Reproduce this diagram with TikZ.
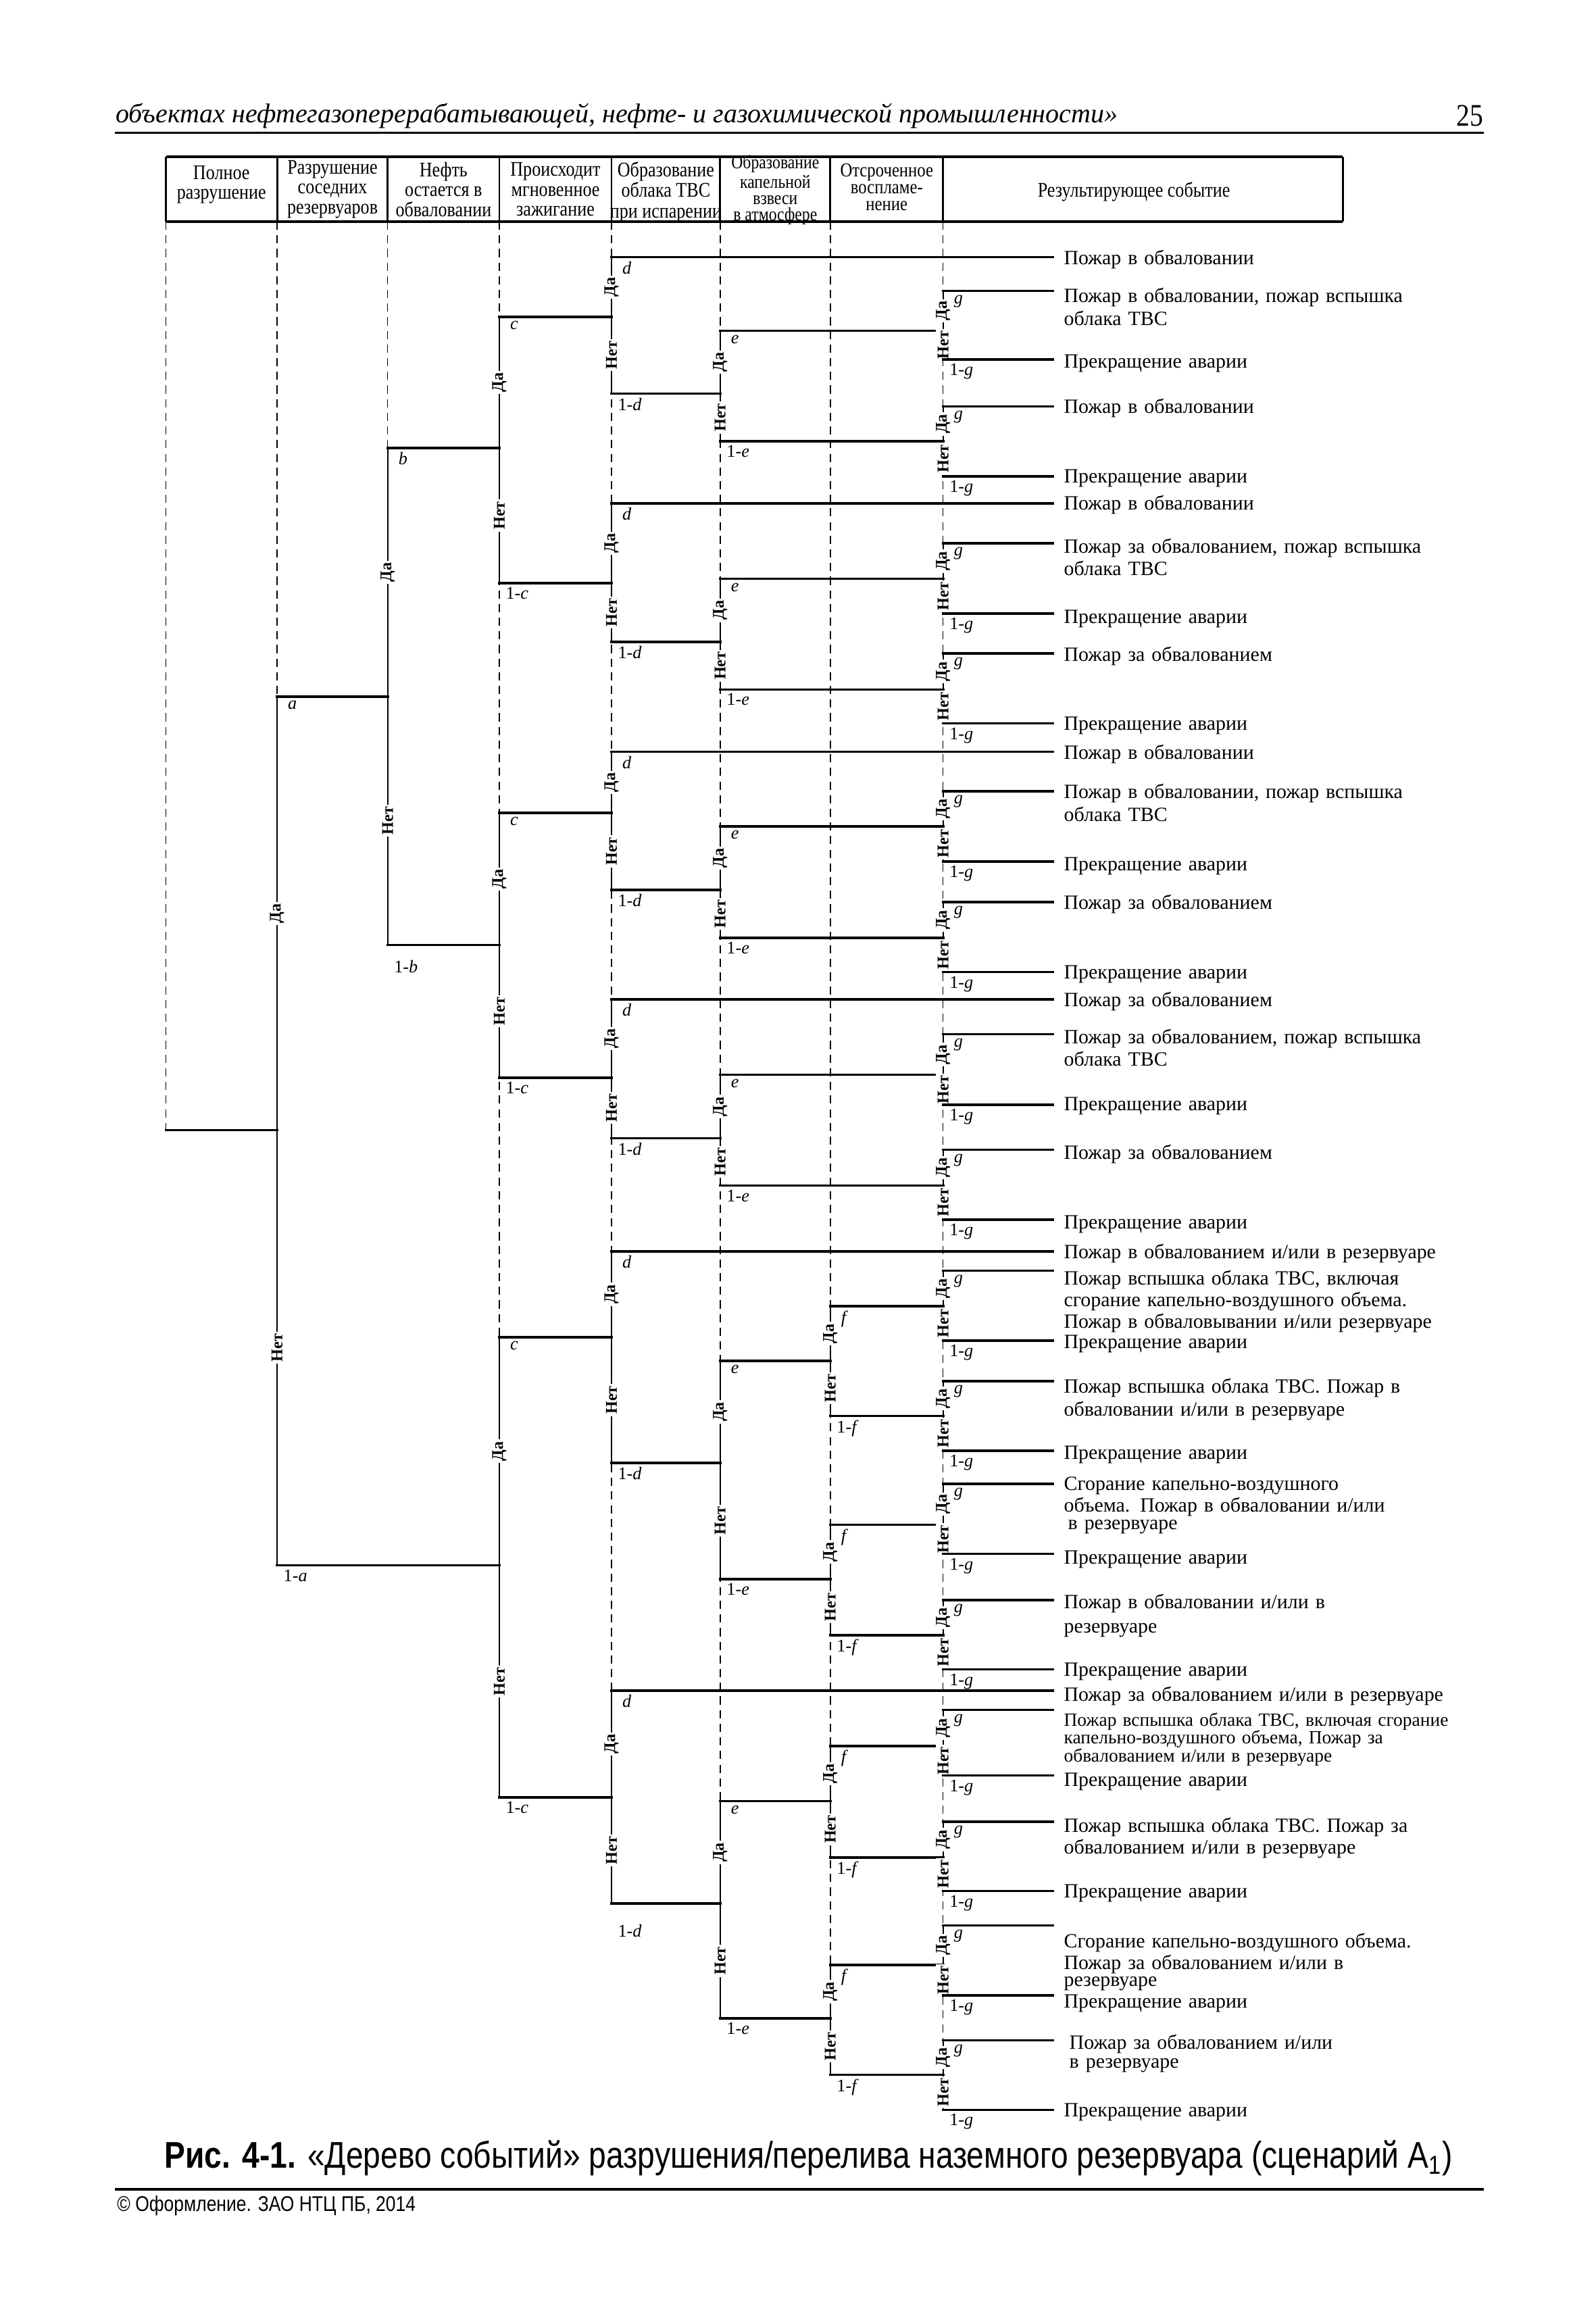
\documentclass[tikz,border=0pt]{standalone}
\usepackage{fontspec}
\usepackage{graphicx}
\setmainfont{Liberation Serif}
\newfontfamily\narrowserif[FakeStretch=0.85]{Liberation Serif}
\newfontfamily\narrowsans[FakeStretch=0.84]{Liberation Sans}
\usetikzlibrary{calc,backgrounds}
\begin{document}
\begin{tikzpicture}[x=0.19mm,y=-0.19mm,
  hline/.style={line width=0.9pt,line cap=rect},
  vline/.style={line width=0.6pt},
  dashline/.style={line width=0.35pt,dash pattern=on 3pt off 2pt},
  yesno/.style={rotate=90,fill=white,inner sep=0.7pt,font=\bfseries\fontsize{6}{6}\selectfont},
  prob/.style={anchor=north west,inner sep=0pt,font=\fontsize{6.5}{7}\selectfont},
  outtext/.style={anchor=base west,inner sep=0pt,text width=170pt,align=left},
  headtext/.style={align=center,inner sep=0pt}]
\useasboundingbox (0,0) rectangle (1081,1568);
% running head
\node[anchor=west,inner sep=0pt,font=\itshape\fontsize{9.9}{12}\selectfont] (runhead) at (78,78.6) {объектах нефтегазоперерабатывающей, нефте- и газохимической промышленности»};
\node[anchor=east,inner sep=0pt,font=\narrowserif\fontsize{11.5}{12}\selectfont] (pageno) at (1005,78.6) {25};
\draw[line width=0.9pt] (78,89.9) -- (1005,89.9);
% header table
\coordinate (tabtop) at (0,106.2);
\coordinate (tabbot) at (0,150.1);
\foreach \nm/\x in {colR/112.4,colA/187.7,colB/262.6,colC/338.2,colD/414.2,colE/487.8,colF/562.4,colG/638.8,colZ/909.5}
  \coordinate (\nm) at (\x,0);
\draw[line width=1.1pt] (colR |- tabtop) -- (colZ |- tabtop) (colR |- tabbot) -- (colZ |- tabbot);
\foreach \col in {colR,colA,colB,colC,colD,colE,colF,colG,colZ}
  \draw[line width=0.7pt] (\col |- tabtop) -- (\col |- tabbot);
\node[headtext,font=\narrowserif\fontsize{7.6}{7.1}\selectfont] (h1) at (150,125.2) {Полное\\разрушение};
\node[headtext,font=\narrowserif\fontsize{7.6}{7.3}\selectfont] (h2) at (225.2,128.2) {Разрушение\\соседних\\резервуаров};
\node[headtext,font=\narrowserif\fontsize{7.6}{7.3}\selectfont] (h3) at (300.4,128.2) {Нефть\\остается в\\обваловании};
\node[headtext,font=\narrowserif\fontsize{7.6}{7.3}\selectfont] (h4) at (376.2,128.2) {Происходит\\мгновенное\\зажигание};
\node[headtext,font=\narrowserif\fontsize{7.6}{7.6}\selectfont] (h5) at (451,130) {Образование\\облака ТВС\\при испарении};
\node[headtext,font=\narrowserif\fontsize{6.9}{5.9}\selectfont] (h6) at (525.1,128.6) {Образование\\капельной\\взвеси\\в атмосфере};
\node[headtext,font=\narrowserif\fontsize{7.2}{6.2}\selectfont] (h7) at (600.6,126.6) {Отсроченное\\воспламе-\\нение};
\node[headtext,font=\narrowserif\fontsize{7.6}{7.6}\selectfont] (h8) at (768,129.9) {Результирующее событие};
% event tree: name/column/parent end/top/bottom/letter/shift of lower label
\coordinate (root) at (112.4,765.4);
\foreach \nm/\col/\prt/\yt/\yb/\ltr/\shft in {
  A/colA/root/472/1060.2/a/2.5,
  B1/colB/A-t/303.4/640/b/10,
  C1/colC/B1-t/214.7/395/c/2.5,
  C2/colC/B1-b/550.7/729.9/c/2.5,
  C3/colC/A-b/905.7/1217.5/c/2.5,
  D1/colD/C1-t/174.2/266.6/d/2.5,
  D2/colD/C1-b/341/434.8/d/2.5,
  D3/colD/C2-t/509.2/602.7/d/2.5,
  D4/colD/C2-b/677/771/d/2.5,
  D5/colD/C3-t/847.5/990.8/d/2.5,
  D6/colD/C3-b/1145/1289.4/d/14,
  E1/colE/D1-b/224/299/e/2.5,
  E2/colE/D2-b/392/467/e/2.5,
  E3/colE/D3-b/559.6/635.3/e/2.5,
  E4/colE/D4-b/728/803/e/2.5,
  E5/colE/D5-b/921.8/1069.5/e/2.5,
  E6/colE/D6-b/1220/1367/e/2.5,
  F1/colF/E5-t/884.8/959/f/2.5,
  F2/colF/E5-b/1032.7/1107.6/f/2.5,
  F3/colF/E6-t/1182.7/1258/f/2.5,
  F4/colF/E6-b/1331/1405.2/f/2.5,
  G1/colG/E1-t/197/243.5/g/2.5,
  G2/colG/E1-b/275.3/322.6/g/2.5,
  G3/colG/E2-t/368/415.6/g/2.5,
  G4/colG/E2-b/442.6/490/g/2.5,
  G5/colG/E3-t/536/583.5/g/2.5,
  G6/colG/E3-b/611/658.4/g/2.5,
  G7/colG/E4-t/700.5/748.3/g/2.5,
  G8/colG/E4-b/778.8/826.1/g/2.5,
  G9/colG/F1-t/860.6/907.9/g/2.5,
  G10/colG/F1-b/935.5/982.7/g/2.5,
  G11/colG/F2-t/1005/1052.4/g/2.5,
  G12/colG/F2-b/1083.9/1130.7/g/2.5,
  G13/colG/F3-t/1158.2/1202.6/g/2.5,
  G14/colG/F3-b/1234/1280.8/g/2.5,
  G15/colG/F4-t/1304.1/1351.5/g/2.5,
  G16/colG/F4-b/1381.9/1429/g/2.5}{
  \coordinate (\nm-j) at (\col |- \prt);
  \coordinate (\nm-t) at ($(\col)+(0,\yt)$);
  \coordinate (\nm-b) at ($(\col)+(0,\yb)$);
  \draw[hline] (\prt) -- (\nm-j);
  \draw[vline] (\nm-t) -- node[yesno] {Да} (\nm-j) -- node[yesno] {Нет} (\nm-b);
  \node[prob] (\nm-p) at ($(\nm-t)+(7,2.5)$) {\textit{\ltr}};
  \node[prob] (\nm-q) at ($(\nm-b)+(4,\shft)$) {1-\textit{\ltr}};
}
% dashed column guides
\begin{pgfonlayer}{background}
\foreach \col/\e in {colR/root,colA/A-b,colB/B1-b,colC/C3-b,colD/D6-b,colE/E6-b,colF/F4-b,colG/G16-b}
  \draw[dashline] (\col |- tabbot) -- (\e);
\end{pgfonlayer}
% resulting events
\coordinate (rim) at (713.3,0);
\coordinate (txt) at (720.3,0);
\foreach \e/\dy/\fs/\ld/\lbl in {
  D1-t/5/7.4/8.3/{Пожар в обваловании},
  G1-t/7.9/7.4/8.3/{Пожар в обваловании, пожар вспышка\\облака ТВС},
  G1-b/5.5/7.4/8.3/{Прекращение аварии},
  G2-t/4.5/7.4/8.3/{Пожар в обваловании},
  G2-b/4.5/7.4/8.3/{Прекращение аварии},
  D2-t/4.5/7.4/8.3/{Пожар в обваловании},
  G3-t/6.4/7.4/8.3/{Пожар за обвалованием, пожар вспышка\\облака ТВС},
  G3-b/6.6/7.4/8.3/{Прекращение аварии},
  G4-t/5.1/7.4/8.3/{Пожар за обвалованием},
  G4-b/4.5/7.4/8.3/{Прекращение аварии},
  D3-t/5/7.4/8.3/{Пожар в обваловании},
  G5-t/4.9/7.4/8.3/{Пожар в обваловании, пожар вспышка\\облака ТВС},
  G5-b/6.4/7.4/8.3/{Прекращение аварии},
  G6-t/4.7/7.4/8.3/{Пожар за обвалованием},
  G6-b/4.5/7.4/8.3/{Прекращение аварии},
  D4-t/4.9/7.4/8.3/{Пожар за обвалованием},
  G7-t/6.3/7.4/8.3/{Пожар за обвалованием, пожар вспышка\\облака ТВС},
  G7-b/4/7.4/8.3/{Прекращение аварии},
  G8-t/6.3/7.4/8.3/{Пожар за обвалованием},
  G8-b/6.3/7.4/8.3/{Прекращение аварии},
  D5-t/5/7.4/8.3/{Пожар в обвалованием и/или в резервуаре},
  G9-t/9.7/7.4/7.9/{Пожар вспышка облака ТВС, включая\\сгорание капельно-воздушного объема.\\Пожар в обваловывании и/или резервуаре},
  G9-b/5.6/7.4/8.3/{Прекращение аварии},
  G10-t/7.8/7.4/8.5/{Пожар вспышка облака ТВС. Пожар в\\обваловании и/или в резервуаре},
  G10-b/5.8/7.4/8.3/{Прекращение аварии},
  G11-t/4.5/7.4/6.4/{Сгорание капельно-воздушного\\объема. Пожар в обваловании и/или\\\hspace*{1.5pt}в резервуаре},
  G11-b/7.1/7.4/8.3/{Прекращение аварии},
  G12-t/5.6/7.4/9/{Пожар в обваловании и/или в\\резервуаре},
  G12-b/4.5/7.4/8.3/{Прекращение аварии},
  D6-t/7/7.4/8.3/{Пожар за обвалованием и/или в резервуаре},
  G13-t/10.8/6.8/6.6/{Пожар вспышка облака ТВС, включая сгорание\\капельно-воздушного объема, Пожар за\\обвалованием и/или в резервуаре},
  G13-b/7.2/7.4/8.3/{Прекращение аварии},
  G14-t/6.8/7.4/8/{Пожар вспышка облака ТВС. Пожар за\\обвалованием и/или в резервуаре},
  G14-b/4.5/7.4/8.3/{Прекращение аварии},
  G15-t/15/7.4/6.3/{Сгорание капельно-воздушного объема.\\Пожар за обвалованием и/или в\\резервуаре},
  G15-b/8.5/7.4/8.3/{Прекращение аварии},
  G16-t/6.1/7.4/6.8/{\hspace*{2pt}Пожар за обвалованием и/или\\\hspace*{2pt}в резервуаре},
  G16-b/4.5/7.4/8.3/{Прекращение аварии}}{
  \draw[hline] (\e) -- (\e -| rim) coordinate (\e-end);
  \node[outtext,font=\fontsize{\fs}{\ld}\selectfont] (\e-txt) at ($(\e -| txt)+(0,\dy)$) {\lbl};
}
% caption and footer
\node[anchor=west,inner sep=0pt,font=\narrowsans\fontsize{13.6}{15}\selectfont] (caption) at (111.2,1461.7) {\textbf{Рис. 4-1.} «Дерево событий» разрушения/перелива наземного резервуара (сценарий A\textsubscript{1})};
\draw[line width=1pt] (78,1483) -- (1005,1483);
\node[anchor=west,inner sep=0pt,font=\narrowsans\fontsize{7.8}{8}\selectfont] (credit) at (79,1494) {© Оформление. ЗАО НТЦ ПБ, 2014};
\end{tikzpicture}
\end{document}
